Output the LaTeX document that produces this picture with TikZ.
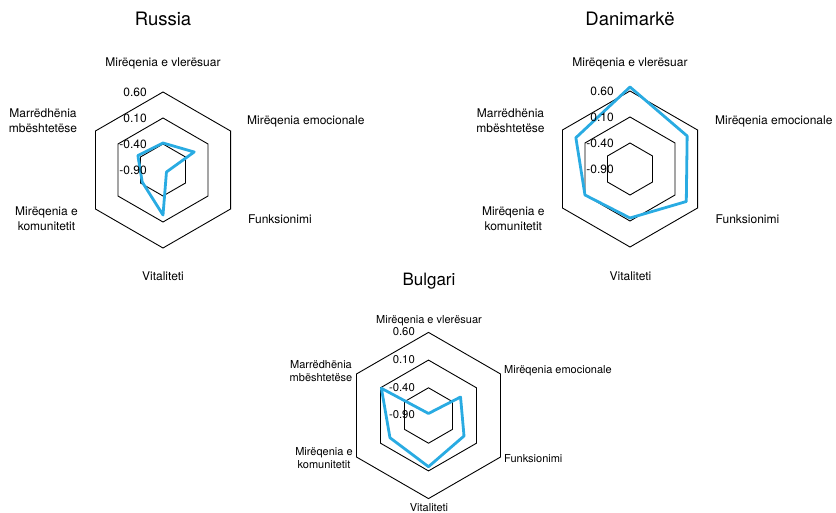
\documentclass[tikz,border=0pt]{standalone}
\usepackage{fontspec}
\setmainfont{TeX Gyre Heros}
\definecolor{seriesblue}{RGB}{41,171,226}
\tikzset{
  grid/.style={draw=black,line width=0.9pt,line join=miter},
  series/.style={draw=seriesblue,line width=2.8pt,line join=round},
  ttl/.style={font=\fontsize{18.5}{22}\selectfont,inner sep=0pt},
  axlab/.style={font=\fontsize{12}{15}\selectfont,inner sep=0pt,align=center},
  axlabsm/.style={font=\fontsize{11}{13}\selectfont,inner sep=0pt,align=center},
  tick/.style={font=\fontsize{12}{14}\selectfont,inner sep=0pt,anchor=east},
  ticksm/.style={font=\fontsize{11.3}{13}\selectfont,inner sep=0pt,anchor=east},
}
\newcommand{\hexgrid}[1]{%
  \foreach \k in {1,2,3}{%
    \draw[grid] (90:{\k*#1}) -- (30:{\k*#1}) -- (-30:{\k*#1}) -- (-90:{\k*#1}) -- (-150:{\k*#1}) -- (150:{\k*#1}) -- cycle;}}
\begin{document}
\begin{tikzpicture}[x=1pt,y=-1pt]
\useasboundingbox (0,0) rectangle (836,513);
% ---------------- Russia ----------------
\begin{scope}[shift={(163,170)},yscale=-1]
  \hexgrid{26}
  \draw[series] (90:27) -- (30:36) -- (-30:4) -- (-90:45) -- (210:24) -- (150:29) -- cycle;
\end{scope}
\node[ttl] (rt) at (163,19) {Russia};
\node[axlab] (r1) at (163,63) {Mirëqenia e vlerësuar};
\node[axlab,anchor=west] (r2) at (247,121) {Mirëqenia emocionale};
\node[axlab,anchor=west] (r3) at (248,219) {Funksionimi};
\node[axlab] (r4) at (163,276) {Vitaliteti};
\node[axlab] (r5) at (46.5,219) {Mirëqenia e\\komunitetit};
\node[axlab] (r6) at (43,121) {Marrëdhënia\\mbështetëse};
\node[tick] (rk3) at (147,92) {0.60};
\node[tick] (rk2) at (147,118) {0.10};
\node[tick] (rk1) at (147,144) {-0.40};
\node[tick] (rk0) at (147,170) {-0.90};
% ---------------- Danimarke ----------------
\begin{scope}[shift={(630,169)},yscale=-1]
  \hexgrid{26}
  \draw[series] (90:82) -- (30:66) -- (-30:65) -- (-90:49) -- (210:52) -- (150:62.5) -- cycle;
\end{scope}
\node[ttl] (dt) at (630,19) {Danimarkë};
\node[axlab] (d1) at (630,63) {Mirëqenia e vlerësuar};
\node[axlab,anchor=west] (d2) at (715,121) {Mirëqenia emocionale};
\node[axlab,anchor=west] (d3) at (715.5,219) {Funksionimi};
\node[axlab] (d4) at (630.5,276) {Vitaliteti};
\node[axlab] (d5) at (513.3,219) {Mirëqenia e\\komunitetit};
\node[axlab] (d6) at (510.5,121) {Marrëdhënia\\mbështetëse};
\node[tick] (dk3) at (614,91) {0.60};
\node[tick] (dk2) at (614,117) {0.10};
\node[tick] (dk1) at (614,143) {-0.40};
\node[tick] (dk0) at (614,169) {-0.90};
% ---------------- Bulgari ----------------
\begin{scope}[shift={(428.5,415.5)},yscale=-1]
  \hexgrid{27.7}
  \draw[series] (90:2) -- (30:37) -- (-30:41) -- (-90:51.2) -- (210:44.5) -- (150:54.4) -- cycle;
\end{scope}
\node[ttl,font=\fontsize{17}{20}\selectfont] (bt) at (429,281) {Bulgari};
\node[axlabsm] (b1) at (429,321) {Mirëqenia e vlerësuar};
\node[axlabsm,anchor=west] (b2) at (504,371) {Mirëqenia emocionale};
\node[axlabsm,anchor=west] (b3) at (504,459) {Funksionimi};
\node[axlabsm] (b4) at (429,508) {Vitaliteti};
\node[axlabsm] (b5) at (324,458) {Mirëqenia e\\komunitetit};
\node[axlabsm] (b6) at (321,371) {Marrëdhënia\\mbështetëse};
\node[ticksm] (bk3) at (415,332) {0.60};
\node[ticksm] (bk2) at (415,359.5) {0.10};
\node[ticksm] (bk1) at (415,387.5) {-0.40};
\node[ticksm] (bk0) at (415,415) {-0.90};
\end{tikzpicture}
\end{document}
